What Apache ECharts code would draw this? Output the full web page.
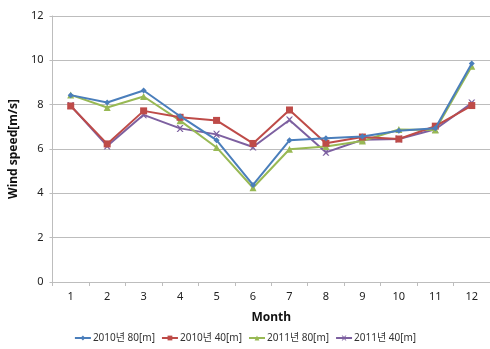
<!DOCTYPE html>
<html>
<head>
<meta charset="utf-8">
<script src="https://cdn.jsdelivr.net/npm/echarts@6/dist/echarts.min.js"></script>
<style>
  html, body { margin: 0; padding: 0; background: #fff; }
  #chart { width: 490px; height: 349px; }
</style>
</head>
<body>
<div id="chart"></div>
<script>
// Monthly mean wind speed by year and measurement height
const months = ['1', '2', '3', '4', '5', '6', '7', '8', '9', '10', '11', '12'];
const seriesNames = ['2010년 80[m]', '2010년 40[m]', '2011년 80[m]', '2011년 40[m]'];
const y2010h80 = [8.43, 8.10, 8.64, 7.48, 6.40, 4.38, 6.39, 6.48, 6.56, 6.82, 6.94, 9.86];
const y2010h40 = [7.94, 6.23, 7.72, 7.43, 7.29, 6.25, 7.76, 6.26, 6.54, 6.45, 7.03, 7.96];
const y2011h80 = [8.44, 7.87, 8.37, 7.28, 6.07, 4.25, 5.99, 6.11, 6.36, 6.88, 6.86, 9.73];
const y2011h40 = [7.96, 6.14, 7.54, 6.93, 6.66, 6.09, 7.31, 5.85, 6.42, 6.45, 6.89, 8.07];
const yTicks = [0, 2, 4, 6, 8, 10, 12];

const colors = ['#4A7EBB', '#BE4B48', '#98B954', '#7D60A0'];
const xMark = 'path://M0,0 L2,0 L5,3 L8,0 L10,0 L6,5 L10,10 L8,10 L5,7 L2,10 L0,10 L4,5 Z';
const symbols = ['diamond', 'rect', 'triangle', xMark];
const symbolSizes = [6, 7, 7, 7];
const values = [y2010h80, y2010h40, y2011h80, y2011h40];

const font = 'Noto Sans, "Noto Sans CJK KR", sans-serif';

const chart = echarts.init(document.getElementById('chart'), null, { renderer: 'canvas' });
chart.setOption({
  animation: false,
  backgroundColor: '#ffffff',
  textStyle: { fontFamily: font },
  grid: { left: 46, right: -1, top: 16, bottom: 67, containLabel: false },
  legend: {
    top: 333,
    left: 'center',
    padding: 0,
    itemGap: 6,
    itemWidth: 16,
    itemHeight: 6,
    textStyle: { fontSize: 10, color: '#333', fontFamily: font, padding: [0, 0, 0, -3] },
    data: seriesNames
  },
  xAxis: {
    type: 'category',
    data: months,
    boundaryGap: true,
    name: 'Month',
    nameLocation: 'middle',
    nameGap: 30,
    nameTextStyle: { fontWeight: 'bold', fontSize: 12, color: '#111', fontFamily: font },
    axisLine: { lineStyle: { color: '#bdbdbd', width: 1 } },
    axisTick: { show: true, length: 4, alignWithLabel: false, lineStyle: { color: '#bdbdbd' } },
    axisLabel: { fontSize: 11, color: '#222', margin: 9 },
    splitLine: { show: false }
  },
  yAxis: {
    type: 'value',
    min: yTicks[0],
    max: yTicks[yTicks.length - 1],
    interval: 2,
    name: 'Wind speed[m/s]',
    nameLocation: 'middle',
    nameGap: 32,
    nameRotate: 90,
    nameTextStyle: { fontWeight: 'bold', fontSize: 12, color: '#111', fontFamily: font },
    axisLine: { show: true, lineStyle: { color: '#bdbdbd', width: 1 } },
    axisTick: { show: true, length: 3, inside: false, lineStyle: { color: '#bdbdbd' } },
    axisLabel: { fontSize: 11, color: '#222', margin: 9 },
    splitLine: { show: true, lineStyle: { color: '#bdbdbd', width: 1 } }
  },
  series: seriesNames.map((name, i) => ({
    name: name,
    type: 'line',
    data: values[i],
    symbol: symbols[i],
    symbolSize: symbolSizes[i],
    showAllSymbol: true,
    z: 10 - i,
    lineStyle: { color: colors[i], width: 2 },
    itemStyle: { color: colors[i], borderWidth: 0 }
  }))
});
</script>
</body>
</html>
